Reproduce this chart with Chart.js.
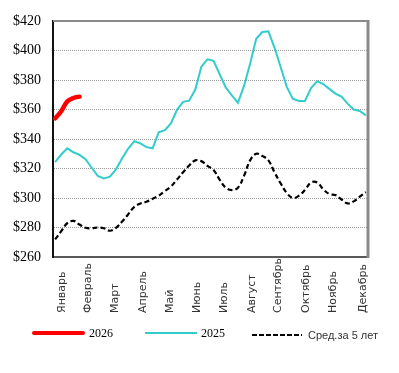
<!DOCTYPE html>
<html>
<head>
<meta charset="utf-8">
<script src="https://cdn.jsdelivr.net/npm/chart.js@4"></script>
<style>
body { margin: 0; background: #fff; }
#wrap { position: relative; width: 399px; height: 373px; }
#priceChart { position: absolute; left: 0; top: 0; }
.swatch { position: absolute; }
.lbl { position: absolute; line-height: 14px; white-space: nowrap; color: #000; }
.serif { font: 12px "Liberation Serif", serif; }
.sans { font: 11px "Liberation Sans", sans-serif; color: #333; }
</style>
</head>
<body>
<div id="wrap">
  <canvas id="priceChart" width="399" height="373"></canvas>
  <div class="swatch" style="left:32px;top:331px;width:53px;height:4px;background:#ff0000;border-radius:2px"></div>
  <div class="lbl serif" style="left:89px;top:326px">2026</div>
  <div class="swatch" style="left:145px;top:332px;width:52px;height:2px;background:#33cccc"></div>
  <div class="lbl serif" style="left:201px;top:326px">2025</div>
  <div class="swatch" style="left:252px;top:334px;width:50px;height:2px;background:repeating-linear-gradient(to right,#000 0 5px,transparent 5px 7px)"></div>
  <div class="lbl sans" style="left:308px;top:329px">Сред.за 5 лет</div>
</div>
<script>
const months = ["Январь","Февраль","Март","Апрель","Май","Июнь","Июль","Август","Сентябрь","Октябрь","Ноябрь","Декабрь"];
// where each month label sits, in weeks
const monthPos = [2.1, 6.45, 10.85, 15.4, 19.85, 24.25, 28.75, 33.3, 37.65, 42.2, 46.6, 51.6];
const weeks = [1,2,3,4,5,6,7,8,9,10,11,12,13,14,15,16,17,18,19,20,21,22,23,24,25,26,
  27,28,29,30,31,32,33,34,35,36,37,38,39,40,41,42,43,44,45,46,47,48,49,50,51,52];

const price2026 = [354, 358.8, 365.5, 367.8, 368.7];
const price2025 = [324.4, 329.5, 333.7, 331, 329.2, 326.3, 320.5, 315, 313.2, 314.5, 319.5, 327,
  333.5, 338.5, 337, 334.5, 333.7, 344.5, 346, 350.5, 359.8, 365.2, 366, 373.5, 389, 394,
  393, 384, 375, 369.5, 364.5, 376, 391, 408, 412.5, 413, 402, 389, 375.5, 367.3, 365.8, 365.8,
  374.5, 379.2, 377.3, 374, 370.8, 368.7, 364, 360, 359, 356];
const avg5 = [272, 277.5, 283, 284.5, 282, 279.8, 279.5, 280, 279.5, 277.8, 279.8, 284,
  289, 294, 296.3, 297.5, 299.5, 301.5, 304.7, 307.8, 312.5, 317.5, 322, 325.5, 325, 321.8,
  319, 312.5, 307, 305.4, 307, 315, 325.5, 330, 328.5, 325.5, 317.5, 310, 303.5, 300, 301.5, 305.4,
  310.5, 310.5, 306, 302.7, 302, 299, 296.3, 297.7, 300.9, 304];

const yMin = 260, yMax = 420, yStep = 20;

function toPoints(values){
  return values.map((v, i) => ({x: weeks[i], y: v}));
}

const monthLabels = {
  id: "monthLabels",
  afterDraw(chart){
    const ctx = chart.ctx;
    const x = chart.scales.x;
    ctx.save();
    ctx.font = '11px "DejaVu Sans"';
    ctx.fillStyle = "#333";
    ctx.textAlign = "left";
    ctx.textBaseline = "middle";
    monthPos.forEach((p, i) => {
      ctx.save();
      ctx.translate(x.getPixelForValue(p), 313);
      ctx.rotate(-Math.PI / 2);
      ctx.fillText(months[i], 0, 0);
      ctx.restore();
    });
    ctx.restore();
  }
};

const frame = {
  id: "frame",
  afterDraw(chart){
    const {ctx, chartArea: a} = chart;
    ctx.save();
    ctx.strokeStyle = "#8a8a8a";
    ctx.lineWidth = 2;
    ctx.beginPath();
    ctx.moveTo(a.left, a.top);
    ctx.lineTo(a.right, a.top);
    ctx.stroke();
    ctx.lineWidth = 3;
    ctx.beginPath();
    ctx.moveTo(a.right, a.top - 1);
    ctx.lineTo(a.right, a.bottom + 1);
    ctx.stroke();
    ctx.restore();
  }
};

const chart = new Chart(document.getElementById("priceChart"), {
  type: "line",
  data: {
    datasets: [
      {
        label: "Сред.за 5 лет",
        data: toPoints(avg5),
        borderColor: "#000",
        borderWidth: 2.2,
        borderDash: [5, 3],
        tension: 0.4,
        pointRadius: 0,
        fill: false
      },
      {
        label: "2025",
        data: toPoints(price2025),
        borderColor: "#33cccc",
        borderWidth: 2,
        tension: 0,
        pointRadius: 0,
        fill: false
      },
      {
        label: "2026",
        data: toPoints(price2026),
        borderColor: "#ff0000",
        borderWidth: 4.5,
        borderCapStyle: "round",
        tension: 0.4,
        pointRadius: 0,
        fill: false
      }
    ]
  },
  options: {
    responsive: false,
    animation: false,
    layout: {padding: {left: 0, right: 31, top: 21, bottom: 0}},
    plugins: {
      legend: {display: false},
      tooltip: {enabled: false}
    },
    scales: {
      x: {
        type: "linear",
        min: 0.65,
        max: 52.35,
        grid: {display: false},
        border: {display: true, color: "#5a5a5a", width: 2},
        ticks: {display: false},
        afterFit: s => { s.height = 116; }
      },
      y: {
        min: yMin,
        max: yMax,
        afterFit: s => { s.width = 53; },
        grid: {
          drawTicks: false,
          lineWidth: 1,
          color: c => (c.tick.value === yMin || c.tick.value === yMax) ? "rgba(0,0,0,0)" : "#9a9a9a"
        },
        border: {display: true, color: "#111", width: 2, dash: [1, 1]},
        ticks: {
          stepSize: yStep,
          padding: 12,
          color: "#000",
          font: {family: "Liberation Serif", size: 14},
          callback: v => "$" + v
        }
      }
    }
  },
  plugins: [monthLabels, frame]
});
</script>
</body>
</html>
